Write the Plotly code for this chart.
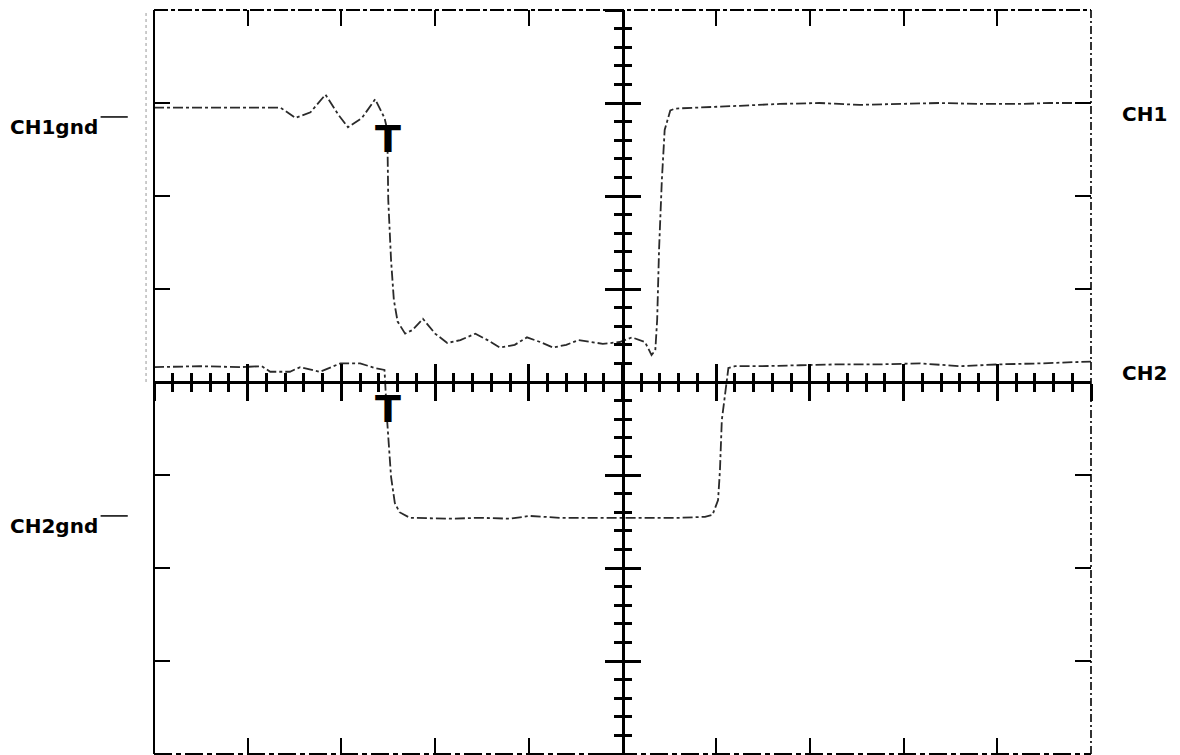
import plotly.graph_objects as go

# Oscilloscope screen: 10 x 8 divisions, values in divisions
ch1_t = [-5.0, -3.65, -3.49, -3.33, -3.17, -3.03, -2.93, -2.78, -2.64, -2.54, -2.51, -2.50,
         -2.47, -2.44, -2.40, -2.32, -2.24, -2.13, -2.00, -1.87, -1.73, -1.57, -1.44, -1.31,
         -1.15, -1.02, -0.88, -0.74, -0.60, -0.47, -0.33, -0.21, -0.03, 0.10, 0.24, 0.31,
         0.35, 0.37, 0.39, 0.42, 0.45, 0.51, 0.56, 0.83, 1.25, 1.68, 2.10, 2.53, 2.96, 3.38,
         3.82, 4.24, 4.56, 5.0]
ch1_v = [2.95, 2.95, 2.84, 2.90, 3.09, 2.87, 2.74, 2.84, 3.04, 2.84, 2.71, 1.96,
         1.31, 0.88, 0.65, 0.52, 0.56, 0.68, 0.52, 0.42, 0.45, 0.52, 0.45, 0.37,
         0.40, 0.48, 0.43, 0.37, 0.40, 0.45, 0.43, 0.41, 0.43, 0.48, 0.43, 0.29,
         0.34, 0.67, 1.42, 2.17, 2.71, 2.92, 2.94, 2.95, 2.97, 2.99, 3.00, 2.98, 2.99, 3.00,
         2.99, 2.99, 3.00, 3.00]

ch2_t = [-5.0, -4.51, -4.08, -3.85, -3.76, -3.55, -3.44, -3.23, -3.01, -2.80, -2.64, -2.54,
         -2.51, -2.47, -2.43, -2.38, -2.27, -1.84, -1.52, -1.20, -0.99, -0.67, -0.24, 0.19,
         0.61, 0.88, 0.96, 1.02, 1.04, 1.06, 1.10, 1.13, 1.20, 1.47, 1.89, 2.32, 2.75, 3.18,
         3.60, 4.03, 4.46, 5.0]
ch2_v = [0.16, 0.17, 0.16, 0.17, 0.11, 0.11, 0.16, 0.11, 0.20, 0.20, 0.15, 0.13,
         -0.44, -1.02, -1.30, -1.40, -1.46, -1.47, -1.46, -1.47, -1.44, -1.46, -1.46, -1.46,
         -1.46, -1.45, -1.43, -1.27, -0.95, -0.41, -0.09, 0.15, 0.17, 0.17, 0.18, 0.19, 0.19, 0.20,
         0.17, 0.19, 0.20, 0.22]

trigger_t = -2.5
labels_left = ["CH1gnd", "CH2gnd"]
labels_left_v = [2.74, -1.55]
labels_right = ["CH1", "CH2"]
labels_right_v = [2.88, 0.10]

X_RANGE = [-5, 5]
Y_RANGE = [-4, 4]

fig = go.Figure()
trace_style = dict(color="#2a2a2a", width=1.8, dash="10px,3px,3px,3px")
fig.add_trace(go.Scatter(x=ch1_t, y=ch1_v, mode="lines", line=trace_style, name="CH1",
                         hoverinfo="skip"))
fig.add_trace(go.Scatter(x=ch2_t, y=ch2_v, mode="lines", line=trace_style, name="CH2",
                         hoverinfo="skip"))

# Border ticks (every division, pointing inward, mirrored)
border_axis = dict(showgrid=False, zeroline=False, showline=False,
                   ticks="inside", ticklen=16, tickwidth=2, tickcolor="black",
                   mirror="ticks", tickmode="linear", tick0=0, dtick=1,
                   showticklabels=False, fixedrange=True)

# Centre graticule axes (crossing at centre, ticks both sides)
def centre_axis(ticks, overlay, pos, rng):
    return dict(overlaying=overlay, anchor="free", position=pos, range=rng,
                showgrid=False, zeroline=False, showline=True, linewidth=2.5,
                linecolor="black", ticks=ticks, ticklen=17, tickwidth=2.5,
                tickcolor="black", tickmode="linear", tick0=0, dtick=1,
                minor=dict(ticks=ticks, ticklen=8, tickwidth=2.5, tickcolor="black",
                           tickmode="linear", tick0=0, dtick=0.2),
                showticklabels=False, fixedrange=True)

fig.update_layout(
    width=1180, height=755,
    margin=dict(l=154, r=89, t=10, b=1),
    paper_bgcolor="white", plot_bgcolor="white",
    showlegend=False, hovermode=False,
    xaxis={**border_axis, "range": X_RANGE},
    yaxis={**border_axis, "range": Y_RANGE},
    xaxis2=centre_axis("outside", "x", 0.5, X_RANGE),
    xaxis3=centre_axis("inside", "x", 0.5, X_RANGE),
    yaxis2=centre_axis("outside", "y", 0.5, Y_RANGE),
    yaxis3=centre_axis("inside", "y", 0.5, Y_RANGE),
)
# dummy invisible traces to activate the centre axes
for xa, ya in [("x2", "y"), ("x3", "y"), ("x", "y2"), ("x", "y3")]:
    fig.add_trace(go.Scatter(x=[None], y=[None], xaxis=xa, yaxis=ya, showlegend=False,
                             hoverinfo="skip"))

# Screen border
shapes = [
    dict(type="line", xref="paper", yref="paper", x0=0, x1=0, y0=0, y1=1,
         line=dict(color="black", width=2)),
    dict(type="line", xref="paper", yref="paper", x0=0, x1=1, y0=1, y1=1,
         line=dict(color="black", width=2, dash="14px,3px,4px,3px")),
    dict(type="line", xref="paper", yref="paper", x0=1, x1=1, y0=0, y1=1,
         line=dict(color="black", width=1.6, dash="8px,3px,2px,3px")),
    dict(type="line", xref="paper", yref="paper", x0=0, x1=1, y0=0, y1=0,
         line=dict(color="black", width=2, dash="18px,4px,5px,4px")),
    dict(type="line", xref="paper", yref="paper", x0=-0.0085, x1=-0.0085, y0=0.5, y1=1,
         line=dict(color="#999", width=1, dash="dot")),
]
# ground marker dashes next to left labels
for v in labels_left_v:
    shapes.append(dict(type="line", xref="paper", yref="y", x0=-0.057, x1=-0.028,
                       y0=v + 0.11, y1=v + 0.11, line=dict(color="black", width=1.5)))
fig.update_layout(shapes=shapes)

font = dict(family="DejaVu Sans", size=20, color="black")
ann = []
for txt, v in zip(labels_left, labels_left_v):
    ann.append(dict(text="<b>%s</b>" % txt, xref="paper", yref="y", x=-0.0576, y=v,
                    xanchor="right", yanchor="middle", showarrow=False, font=font))
for txt, v in zip(labels_right, labels_right_v):
    ann.append(dict(text="<b>%s</b>" % txt, xref="paper", yref="y", x=1.031, y=v,
                    xanchor="left", yanchor="middle", showarrow=False, font=font))
for v in [2.61, -0.29]:
    ann.append(dict(text="<b>T</b>", xref="x", yref="y", x=trigger_t, y=v,
                    xanchor="center", yanchor="middle", showarrow=False,
                    font=dict(family="DejaVu Sans", size=38, color="black")))
fig.update_layout(annotations=ann)

fig.write_html("out.html")
